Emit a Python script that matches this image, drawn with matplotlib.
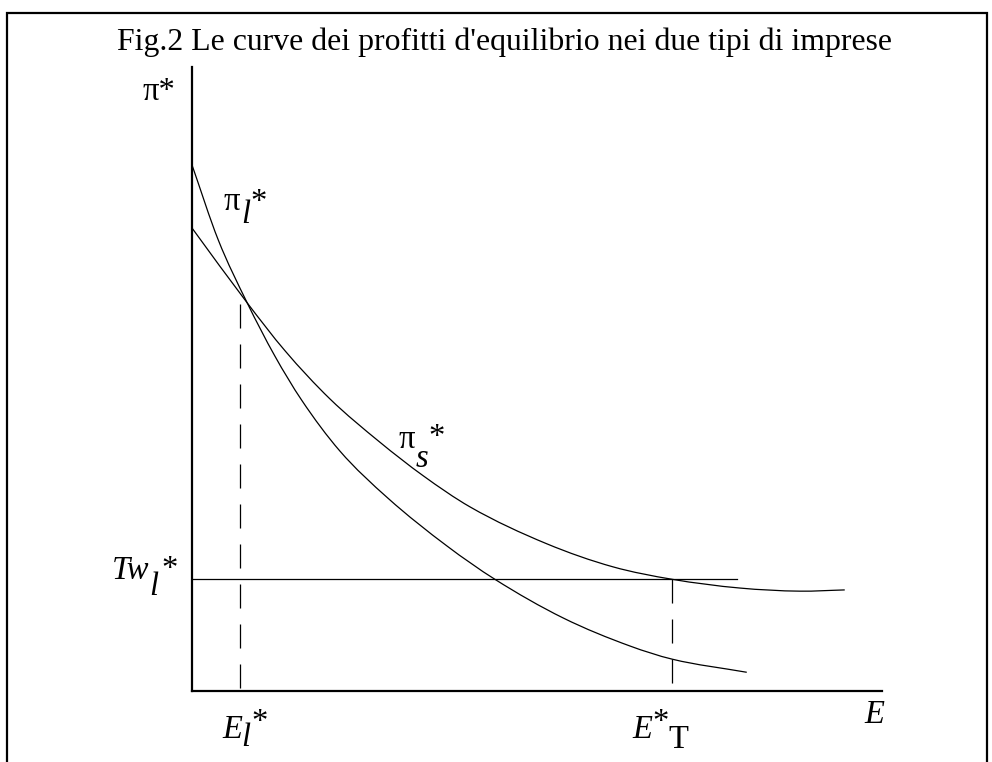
import matplotlib
matplotlib.use("Agg")
import matplotlib.pyplot as plt
import numpy as np
from matplotlib.patches import Rectangle, PathPatch
from matplotlib.path import Path

plt.rcParams['lines.scale_dashes'] = False

# ---- data (E and pi in arbitrary 0-100 units) ----
E_pl = [0.0, 3.8, 8.0, 12.0, 15.9, 21.4, 28.4, 37.0, 43.9, 53.8, 63.5, 69.6, 80.4]
pi_l = [84.3, 72.3, 62.2, 53.7, 46.6, 38.5, 30.9, 23.2, 17.9, 11.7, 7.2, 5.1, 3.0]

E_ps = [0.0, 8.0, 13.5, 20.0, 27.2, 33.5, 40.3, 51.4, 61.0, 69.6, 79.4, 88.1, 94.6]
pi_s = [74.2, 62.2, 54.5, 46.8, 39.9, 34.5, 29.5, 23.6, 19.9, 17.9, 16.5, 16.0, 16.2]

Tw_level = 18.0      # Tw_l*
Tw_end = 79.0
E_l_star = 7.0       # E_l*
E_l_top = 62.0
E_T_star = 69.6      # E*_T
E_T_top = 18.0

title = "Fig.2 Le curve dei profitti d'equilibrio nei due tipi di imprese"


def smooth_path(xs, ys):
    """Cubic Hermite (Bezier) path through the given points."""
    x = np.asarray(xs, float)
    y = np.asarray(ys, float)
    d = np.diff(y) / np.diff(x)
    m = np.empty_like(x)
    m[0], m[-1] = d[0], d[-1]
    m[1:-1] = (d[:-1] + d[1:]) / 2
    verts = [(x[0], y[0])]
    codes = [Path.MOVETO]
    for i in range(len(x) - 1):
        h = x[i + 1] - x[i]
        verts += [(x[i] + h / 3, y[i] + m[i] * h / 3),
                  (x[i + 1] - h / 3, y[i + 1] - m[i + 1] * h / 3),
                  (x[i + 1], y[i + 1])]
        codes += [Path.CURVE4] * 3
    return Path(verts, codes)


W, H = 992, 762
fig = plt.figure(figsize=(W / 100, H / 100), dpi=100)
ax = fig.add_axes([192 / W, (H - 691) / H, 690 / W, 624 / H])
ax.set_xlim(0, 100)
ax.set_ylim(0, 100)
for s in ('top', 'right'):
    ax.spines[s].set_visible(False)
for s in ('left', 'bottom'):
    ax.spines[s].set_linewidth(1.6)
ax.set_xticks([])
ax.set_yticks([])

lw = 0.9
for xs, ys in ((E_pl, pi_l), (E_ps, pi_s)):
    ax.add_patch(PathPatch(smooth_path(xs, ys), facecolor='none',
                           edgecolor='black', lw=lw, clip_on=False))
ax.plot([0, Tw_end], [Tw_level, Tw_level], color='black', lw=lw, clip_on=False)
dash = (0, (17.3, 11.5))
ax.plot([E_l_star, E_l_star], [E_l_top, 0], color='black', lw=lw, linestyle=dash)
ax.plot([E_T_star, E_T_star], [E_T_top, 0], color='black', lw=lw, linestyle=dash)

# border frame
fig.patches.append(Rectangle((7 / W, -0.05), (987 - 7) / W, 1.05 - 13 / H,
                             transform=fig.transFigure, fill=False,
                             edgecolor='black', lw=1.6))

FAM = 'Liberation Serif'
renderer = fig.canvas.get_renderer()


def put(x, y, s, style='normal', size=23.5, ha='left'):
    return fig.text(x / W, 1 - y / H, s, ha=ha, va='baseline', fontstyle=style,
                    family=FAM, size=size, color='black')


def put_seq(x, y, pieces, size=23.5):
    """pieces: (text, style, dy_px, gap_px); each piece starts after the previous."""
    cur = x
    for s, style, dy, gap in pieces:
        cur += gap
        t = put(cur, y + dy, s, style, size)
        bb = t.get_window_extent(renderer)
        cur = bb.x1 + 0.5


put(505, 50, title, size=22.9, ha='center')
put(143, 100, "π*")
put_seq(224, 210, [("π", 'normal', 0, 0), ("l", 'italic', 13, 0), ("*", 'normal', 1, 0)])
put_seq(399, 448, [("π", 'normal', 0, 0), ("s", 'italic', 19, 0), ("*", 'normal', -2, -1)])
put_seq(112, 579, [("Tw", 'italic', 0, 0), ("l", 'italic', 16, -1), ("*", 'normal', -1, 3)])
put_seq(222, 738, [("E", 'italic', 0, 0), ("l", 'italic', 8, -1), ("*", 'normal', -7, 0)])
put_seq(632, 738, [("E", 'italic', 0, 0), ("*", 'normal', -7, 0), ("T", 'normal', 10, -1)])
put(864, 723, "E", 'italic')

fig.savefig("out.png", dpi=100)
